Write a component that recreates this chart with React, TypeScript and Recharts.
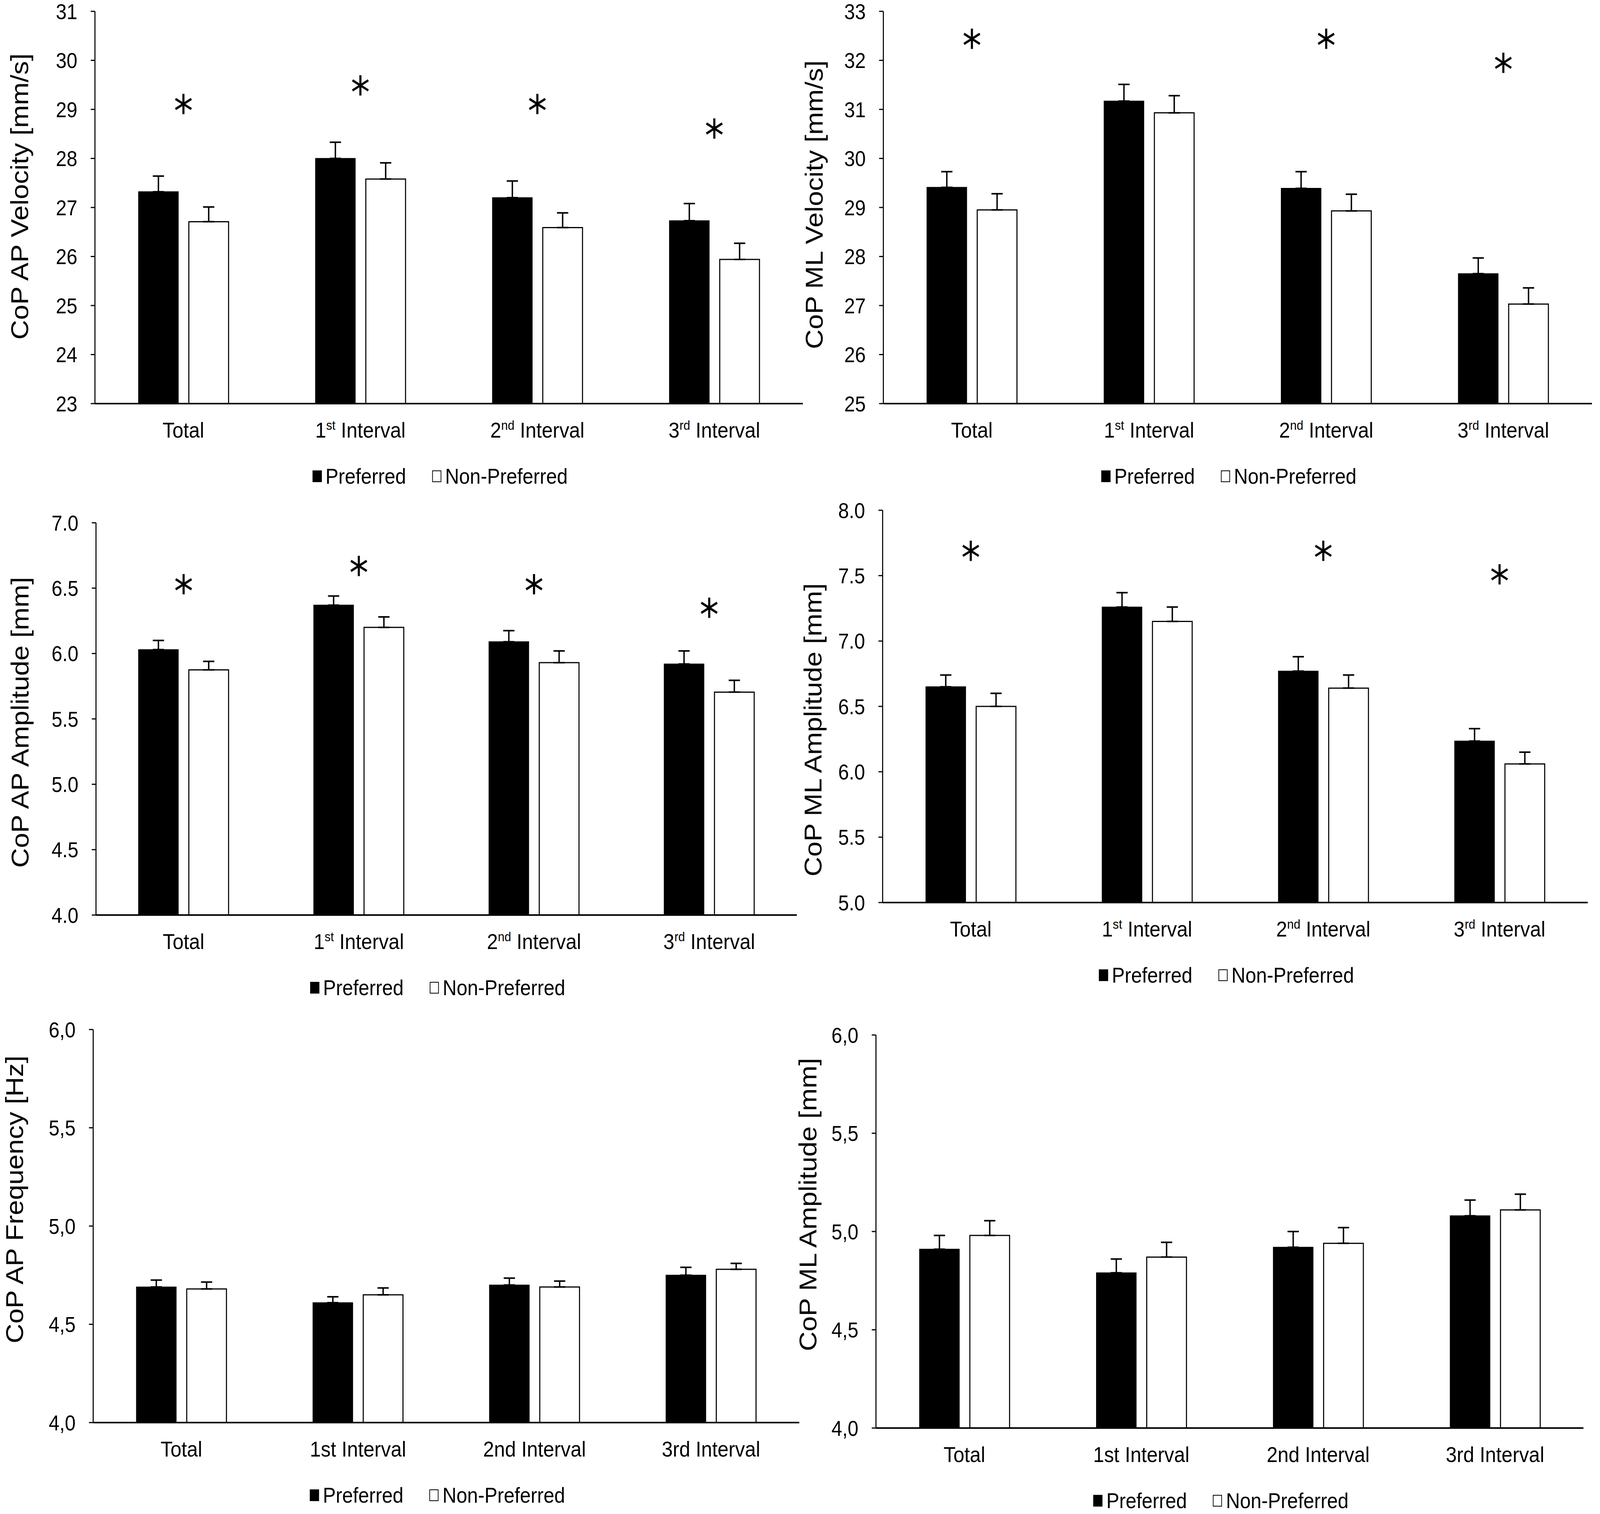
import React from 'react';
import { ComposedChart, Bar, XAxis, YAxis, ErrorBar, Scatter, Legend } from 'recharts';

const FONT = "'Liberation Sans', Arial, sans-serif";
const PAGE_W = 4550;
const PAGE_H = 3875;

const categories = ['Total', '1st Interval', '2nd Interval', '3rd Interval'];
const seriesNames = ['Preferred', 'Non-Preferred'];

// CoP AP velocity [mm/s]
const apVelPref = [27.32, 28.0, 27.2, 26.73];
const apVelPrefSE = [0.32, 0.33, 0.34, 0.35];
const apVelNon = [26.71, 27.58, 26.59, 25.94];
const apVelNonSE = [0.3, 0.33, 0.3, 0.33];
const apVelStars = [29.11, 29.49, 29.11, 28.61];
const apVelTicks = [23, 24, 25, 26, 27, 28, 29, 30, 31];

// CoP ML velocity [mm/s]
const mlVelPref = [29.41, 31.17, 29.39, 27.65];
const mlVelPrefSE = [0.32, 0.34, 0.34, 0.32];
const mlVelNon = [28.95, 30.93, 28.93, 27.03];
const mlVelNonSE = [0.33, 0.35, 0.34, 0.33];
const mlVelStars = [32.44, null, 32.44, 31.95];
const mlVelTicks = [25, 26, 27, 28, 29, 30, 31, 32, 33];

// CoP AP amplitude [mm]
const apAmpPref = [6.03, 6.37, 6.09, 5.92];
const apAmpPrefSE = [0.07, 0.07, 0.085, 0.1];
const apAmpNon = [5.875, 6.2, 5.93, 5.705];
const apAmpNonSE = [0.065, 0.08, 0.09, 0.09];
const apAmpStars = [6.53, 6.67, 6.53, 6.35];
const apAmpTicks = [4.0, 4.5, 5.0, 5.5, 6.0, 6.5, 7.0];

// CoP ML amplitude [mm]
const mlAmpPref = [6.65, 7.26, 6.77, 6.235];
const mlAmpPrefSE = [0.09, 0.11, 0.11, 0.095];
const mlAmpNon = [6.5, 7.15, 6.64, 6.06];
const mlAmpNonSE = [0.1, 0.11, 0.1, 0.09];
const mlAmpStars = [7.69, null, 7.69, 7.51];
const mlAmpTicks = [5.0, 5.5, 6.0, 6.5, 7.0, 7.5, 8.0];

// CoP AP frequency [Hz]
const apFreqPref = [4.69, 4.61, 4.7, 4.75];
const apFreqPrefSE = [0.035, 0.03, 0.035, 0.04];
const apFreqNon = [4.68, 4.65, 4.69, 4.78];
const apFreqNonSE = [0.035, 0.035, 0.03, 0.03];

// CoP ML amplitude [mm], second set
const mlAmp2Pref = [4.91, 4.79, 4.92, 5.08];
const mlAmp2PrefSE = [0.07, 0.07, 0.08, 0.08];
const mlAmp2Non = [4.98, 4.87, 4.94, 5.11];
const mlAmp2NonSE = [0.075, 0.075, 0.08, 0.08];

const lowerTicks = [4.0, 4.5, 5.0, 5.5, 6.0];

function CatTick(props: any) {
  const { x, y, payload, sup } = props;
  const m = sup ? /^(\d)(st|nd|rd)(.*)$/.exec(payload.value) : null;
  return (
    <text x={x} y={y + 87} textAnchor="middle" fontSize={56} fontFamily={FONT} fill="#000">
      {m ? (
        <>
          <tspan>{m[1]}</tspan>
          <tspan fontSize={34} dy={-20}>{m[2]}</tspan>
          <tspan dy={20}>{m[3]}</tspan>
        </>
      ) : (
        payload.value
      )}
    </text>
  );
}

function Star(props: any) {
  const { cx, cy, payload } = props;
  if (!payload || payload.star == null || !isFinite(cy)) return <g />;
  const r = 26;
  return (
    <g stroke="#000" strokeWidth={6}>
      <line x1={cx} y1={cy - r} x2={cx} y2={cy + r} />
      <line x1={cx - r * 0.866} y1={cy - r * 0.5} x2={cx + r * 0.866} y2={cy + r * 0.5} />
      <line x1={cx - r * 0.866} y1={cy + r * 0.5} x2={cx + r * 0.866} y2={cy - r * 0.5} />
    </g>
  );
}

function LegendRow({ payload }: any) {
  const items = seriesNames
    .map((n) => (payload || []).find((p: any) => p.value === n))
    .filter(Boolean);
  return (
    <div
      style={{
        display: 'flex',
        justifyContent: 'center',
        alignItems: 'center',
        height: 70,
        fontFamily: FONT,
        fontSize: 55,
        lineHeight: 1,
        color: '#000',
      }}
    >
      {items.map((it: any, i: number) => (
        <div key={it.value} style={{ display: 'flex', alignItems: 'center', marginLeft: i ? 74 : 0 }}>
          <span
            style={{
              display: 'inline-block',
              width: 26,
              height: 30,
              background: it.color,
              border: '2px solid #000',
              boxSizing: 'border-box',
              marginRight: 11,
            }}
          />
          <span>{it.value}</span>
        </div>
      ))}
    </div>
  );
}

interface PanelProps {
  box: number[];
  plot: number[];
  title: string;
  titleOffset: number;
  titleShift: number;
  pref: number[];
  prefSE: number[];
  non: number[];
  nonSE: number[];
  stars?: (number | null)[];
  ticks: number[];
  format: (v: number) => string;
  sup: boolean;
  clip?: boolean;
}

const X_AXIS_H = 100;

function Panel(p: PanelProps) {
  const [x0, y0, w, h] = p.box;
  const [L, T, R, B] = p.plot;
  const data = categories.map((cat, i) => ({
    cat,
    pref: p.pref[i],
    prefErr: [0, p.prefSE[i]],
    non: p.non[i],
    nonErr: [0, p.nonSE[i]],
    star: p.stars ? p.stars[i] : null,
  }));
  const titleX = L - x0 - p.titleOffset;
  const titleY = (T + B) / 2 - y0 + p.titleShift;
  const base = titleX + 25;
  return (
    <div style={{ position: 'absolute', left: x0, top: y0, width: w, height: h, overflow: p.clip ? 'hidden' : 'visible' }}>
      <ComposedChart
        width={w}
        height={h}
        data={data}
        margin={{ left: 0, top: T - y0, right: x0 + w - R, bottom: y0 + h - B - X_AXIS_H }}
        barSize={113}
        barGap={30}
      >
        <XAxis
          dataKey="cat"
          height={X_AXIS_H}
          tickLine={false}
          tickSize={0}
          tickMargin={0}
          axisLine={{ stroke: '#000', strokeWidth: 4 }}
          tick={(tp: any) => <CatTick {...tp} sup={p.sup} />}
          interval={0}
        />
        <YAxis
          type="number"
          width={L - x0}
          domain={[p.ticks[0], p.ticks[p.ticks.length - 1]]}
          ticks={p.ticks}
          interval={0}
          tickFormatter={p.format}
          tickSize={12}
          tickMargin={38}
          tickLine={{ stroke: '#000', strokeWidth: 3 }}
          axisLine={{ stroke: '#000', strokeWidth: 3 }}
          tick={{ fontSize: 55, fill: '#000', fontFamily: FONT }}
          label={{
            value: p.title,
            content: () => (
              <text
                x={base}
                y={titleY}
                transform={`rotate(-90 ${base} ${titleY})`}
                textAnchor="middle"
                fontSize={70}
                fontFamily={FONT}
                fill="#000"
              >
                {p.title}
              </text>
            ),
          }}
        />
        <Bar dataKey="pref" name="Preferred" fill="#000" stroke="#000" strokeWidth={2} isAnimationActive={false}>
          <ErrorBar dataKey="prefErr" width={16} stroke="#000" strokeWidth={4} direction="y" />
        </Bar>
        <Bar dataKey="non" name="Non-Preferred" fill="#fff" stroke="#000" strokeWidth={3} isAnimationActive={false}>
          <ErrorBar dataKey="nonErr" width={16} stroke="#000" strokeWidth={4} direction="y" />
        </Bar>
        {p.stars && (
          <Scatter dataKey="star" legendType="none" shape={<Star />} isAnimationActive={false} />
        )}
        <Legend
          layout="horizontal"
          verticalAlign="middle"
          align="center"
          wrapperStyle={{ top: B + 186 - y0 - 35, left: L - x0 - 25, width: R - L, height: 70 }}
          content={(lp: any) => <LegendRow payload={lp.payload} />}
        />
      </ComposedChart>
    </div>
  );
}

const intFmt = (v: number) => String(v);
const dotFmt = (v: number) => v.toFixed(1);
const commaFmt = (v: number) => v.toFixed(1).replace('.', ',');

export default function App() {
  // the browser viewport can be narrower than 4550px; stretch the figure to fill it
  const vw = document.documentElement.clientWidth || window.innerWidth || PAGE_W;
  const vh = document.documentElement.clientHeight || window.innerHeight || PAGE_H;
  const sx = Math.min(1, vw / PAGE_W);
  const sy = Math.min(1, vh / PAGE_H);
  return (
    <div style={{ position: 'absolute', left: 0, top: 0, width: PAGE_W * sx, height: PAGE_H * sy, overflow: 'hidden', background: '#fff' }}>
      <div style={{ position: 'relative', width: PAGE_W, height: PAGE_H, transform: `scale(${sx}, ${sy})`, transformOrigin: '0 0' }}>
        <Panel
          box={[0, 0, 2290, 1280]}
          plot={[270, 29, 2283, 1033]}
          title="CoP AP Velocity [mm/s]"
          titleOffset={215}
          titleShift={-28}
          pref={apVelPref}
          prefSE={apVelPrefSE}
          non={apVelNon}
          nonSE={apVelNonSE}
          stars={apVelStars}
          ticks={apVelTicks}
          format={intFmt}
          sup
        />
        <Panel
          box={[2260, 0, 2290, 1240]}
          plot={[2512, 29, 4527, 1033]}
          title="CoP ML Velocity [mm/s]"
          titleOffset={198}
          titleShift={-7}
          pref={mlVelPref}
          prefSE={mlVelPrefSE}
          non={mlVelNon}
          nonSE={mlVelNonSE}
          stars={mlVelStars}
          ticks={mlVelTicks}
          format={intFmt}
          sup
          clip
        />
        <Panel
          box={[0, 1280, 2290, 1290]}
          plot={[273, 1338, 2266, 2342]}
          title="CoP AP Amplitude [mm]"
          titleOffset={217}
          titleShift={9}
          pref={apAmpPref}
          prefSE={apAmpPrefSE}
          non={apAmpNon}
          nonSE={apAmpNonSE}
          stars={apAmpStars}
          ticks={apAmpTicks}
          format={dotFmt}
          sup
        />
        <Panel
          box={[2260, 1250, 2290, 1325]}
          plot={[2510, 1306, 4515, 2310]}
          title="CoP ML Amplitude [mm]"
          titleOffset={199}
          titleShift={60}
          pref={mlAmpPref}
          prefSE={mlAmpPrefSE}
          non={mlAmpNon}
          nonSE={mlAmpNonSE}
          stars={mlAmpStars}
          ticks={mlAmpTicks}
          format={dotFmt}
          sup
        />
        <Panel
          box={[0, 2575, 2290, 1300]}
          plot={[265, 2635, 2273, 3641]}
          title="CoP AP Frequency [Hz]"
          titleOffset={224}
          titleShift={-68}
          pref={apFreqPref}
          prefSE={apFreqPrefSE}
          non={apFreqNon}
          nonSE={apFreqNonSE}
          ticks={lowerTicks}
          format={commaFmt}
          sup={false}
        />
        <Panel
          box={[2260, 2575, 2290, 1300]}
          plot={[2491, 2649, 4503, 3655]}
          title="CoP ML Amplitude [mm]"
          titleOffset={194}
          titleShift={-69}
          pref={mlAmp2Pref}
          prefSE={mlAmp2PrefSE}
          non={mlAmp2Non}
          nonSE={mlAmp2NonSE}
          ticks={lowerTicks}
          format={commaFmt}
          sup={false}
        />
      </div>
    </div>
  );
}
